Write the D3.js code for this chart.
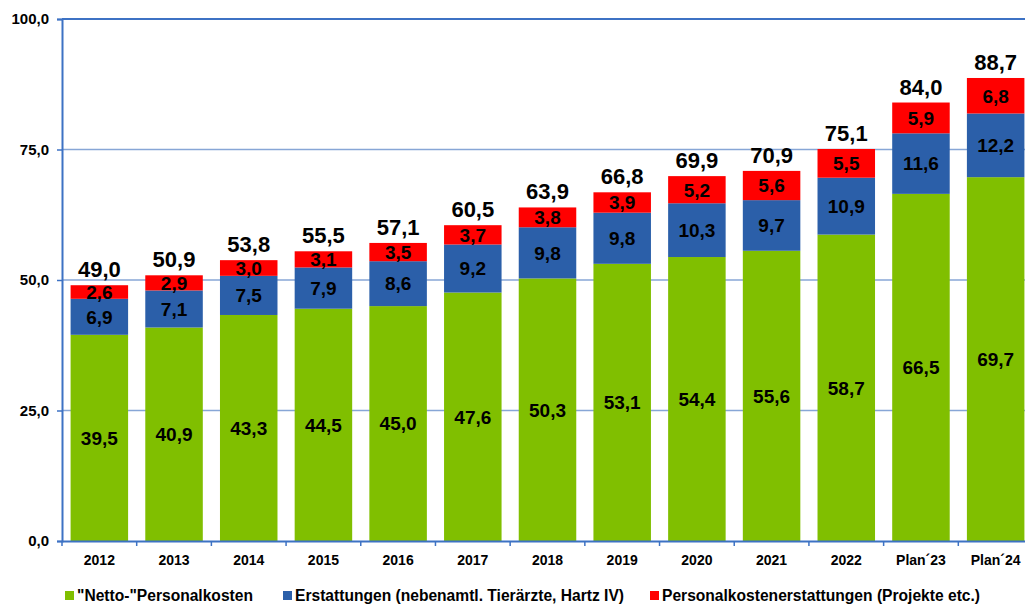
<!DOCTYPE html>
<html lang="de">
<head>
<meta charset="UTF-8">
<title>Personalkosten</title>
<style>
  body { margin: 0; background: #fff; }
  svg { display: block; font-family: "Liberation Sans", Arial, sans-serif; font-weight: bold; }
</style>
</head>
<body>
<script src="https://cdn.jsdelivr.net/npm/d3@7/dist/d3.min.js"></script>
<script>
  const width = 1025
  const height = 605

  const years = ['2012', '2013', '2014', '2015', '2016', '2017', '2018', '2019', '2020', '2021', '2022', 'Plan´23', 'Plan´24']
  const netto = [39.5, 40.9, 43.3, 44.5, 45.0, 47.6, 50.3, 53.1, 54.4, 55.6, 58.7, 66.5, 69.7]
  const erstattungen = [6.9, 7.1, 7.5, 7.9, 8.6, 9.2, 9.8, 9.8, 10.3, 9.7, 10.9, 11.6, 12.2]
  const projekte = [2.6, 2.9, 3.0, 3.1, 3.5, 3.7, 3.8, 3.9, 5.2, 5.6, 5.5, 5.9, 6.8]
  const totals = [49.0, 50.9, 53.8, 55.5, 57.1, 60.5, 63.9, 66.8, 69.9, 70.9, 75.1, 84.0, 88.7]
  const yTicks = [0, 25, 50, 75, 100]
  const seriesNames = ['"Netto-"Personalkosten', 'Erstattungen (nebenamtl. Tierärzte, Hartz IV)', 'Personalkostenerstattungen (Projekte etc.)']
  const colors = ['#80bf00', '#2b5fa9', '#ff0000']

  const fmt = v => v.toFixed(1).replace('.', ',')

  // Zeilen für d3.stack
  const rows = years.map((y, i) => ({ year: y, s0: netto[i], s1: erstattungen[i], s2: projekte[i] }))
  const stacked = d3.stack().keys(['s0', 's1', 's2'])(rows)

  const plotLeft = 62, plotTop = 19, plotBottom = 541
  const plotRight = 1033 // rechte Kante läuft im Original aus dem Bild

  const x = d3.scaleBand().domain(years).range([plotLeft, plotRight]).paddingInner(0.23).paddingOuter(0.115)
  const y = d3.scaleLinear().domain([0, 100]).range([plotBottom, plotTop])

  const svg = d3.select('body').append('svg')
    .attr('width', width)
    .attr('height', height)

  // Gitterlinien
  svg.append('g').selectAll('line')
    .data(yTicks.filter(d => d > 0))
    .enter().append('line')
    .attr('x1', plotLeft).attr('x2', width)
    .attr('y1', d => y(d)).attr('y2', d => y(d))
    .attr('stroke', d => d === 100 ? '#3d72c4' : '#87a6d6')
    .attr('stroke-width', d => d === 100 ? 2 : 1.5)

  // Balken
  svg.append('g').selectAll('g')
    .data(stacked)
    .enter().append('g')
    .attr('fill', (d, i) => colors[i])
    .selectAll('rect')
    .data(d => d)
    .enter().append('rect')
    .attr('x', d => x(d.data.year))
    .attr('y', d => y(d[1]))
    .attr('width', x.bandwidth())
    .attr('height', d => y(d[0]) - y(d[1]))

  // Segmentwerte
  svg.append('g').selectAll('g')
    .data(stacked)
    .enter().append('g')
    .selectAll('text')
    .data(d => d.map(p => ({ p, key: d.key })))
    .enter().append('text')
    .attr('x', d => x(d.p.data.year) + x.bandwidth() / 2)
    .attr('y', d => (y(d.p[0]) + y(d.p[1])) / 2)
    .attr('dy', '0.36em')
    .attr('text-anchor', 'middle')
    .attr('font-size', 19)
    .attr('fill', '#000')
    .text(d => fmt(d.p.data[d.key]))

  // Summen
  svg.append('g').selectAll('text')
    .data(years)
    .enter().append('text')
    .attr('x', d => x(d) + x.bandwidth() / 2)
    .attr('y', (d, i) => y(totals[i]) - 8)
    .attr('text-anchor', 'middle')
    .attr('font-size', 22)
    .attr('fill', '#000')
    .text((d, i) => fmt(totals[i]))

  // y-Achse
  const yAxis = svg.append('g')
    .attr('transform', `translate(${plotLeft},0)`)
    .call(d3.axisLeft(y).tickValues(yTicks).tickSize(5).tickPadding(8).tickFormat(fmt))
  yAxis.select('.domain').attr('stroke', '#3d72c4').attr('stroke-width', 2)
  yAxis.selectAll('.tick line').attr('stroke', '#3d72c4').attr('stroke-width', 1.5)
  yAxis.selectAll('.tick text')
    .attr('font-size', 15).attr('font-family', null).attr('fill', '#000')

  // x-Achse
  const xAxis = svg.append('g')
    .attr('transform', `translate(0,${plotBottom})`)
    .call(d3.axisBottom(x).tickSize(0).tickPadding(14))
  xAxis.select('.domain').attr('stroke', '#3d72c4').attr('stroke-width', 2)
  xAxis.selectAll('.tick text')
    .attr('font-size', 14).attr('font-family', null).attr('fill', '#000')

  // Trennstriche zwischen den Kategorien
  svg.append('g').selectAll('line')
    .data(years)
    .enter().append('line')
    .attr('x1', d => x(d) - x.step() * x.paddingInner() / 2)
    .attr('x2', d => x(d) - x.step() * x.paddingInner() / 2)
    .attr('y1', plotBottom).attr('y2', plotBottom + 5)
    .attr('stroke', '#3d72c4').attr('stroke-width', 1.5)

  // Legende
  const legendX = [65, 283, 650]
  const legend = svg.append('g').selectAll('g')
    .data(seriesNames)
    .enter().append('g')
    .attr('transform', (d, i) => `translate(${legendX[i]},596)`)
  legend.append('rect')
    .attr('x', 0).attr('y', -5)
    .attr('width', 9).attr('height', 9)
    .attr('fill', (d, i) => colors[i])
  legend.append('text')
    .attr('x', 12).attr('y', 0)
    .attr('dy', '0.35em')
    .attr('font-size', 15.6)
    .attr('fill', '#000')
    .text(d => d)
</script>
</body>
</html>
